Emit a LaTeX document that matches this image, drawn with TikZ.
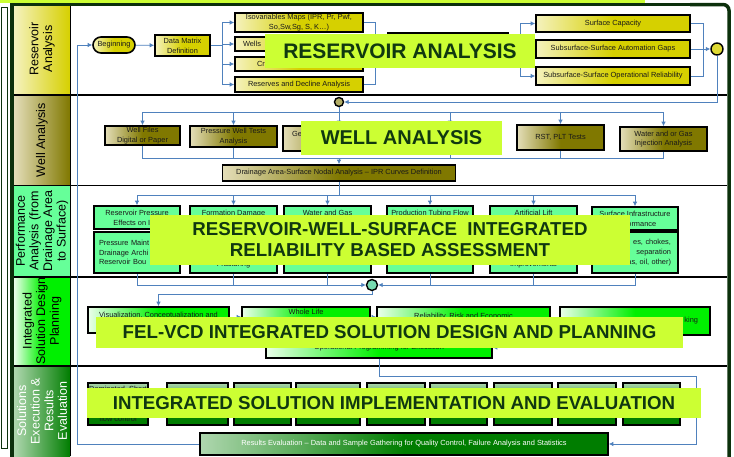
\documentclass[tikz,border=0pt]{standalone}
\usepackage{fontspec}
\setmainfont{Liberation Sans}
\usepackage{xcolor}
\usepackage{tikz}
\usetikzlibrary{arrows.meta}
\definecolor{yelb}{RGB}{214,208,0}
\definecolor{yell}{RGB}{245,242,190}
\definecolor{olvb}{RGB}{128,120,0}
\definecolor{olvl}{RGB}{228,222,185}
\definecolor{mint}{RGB}{102,255,153}
\definecolor{lgrb}{RGB}{0,240,0}
\definecolor{lgrl}{RGB}{235,255,235}
\definecolor{dgrb}{RGB}{0,125,0}
\definecolor{dgrl}{RGB}{175,215,175}
\definecolor{frameg}{RGB}{12,48,12}
\definecolor{lime}{RGB}{204,255,51}
\definecolor{limetext}{RGB}{16,56,16}
\definecolor{connb}{RGB}{79,129,189}
\def\boxfont{\fontsize{7.4}{9.8}\selectfont}
\tikzstyle{box}=[draw=black,line width=1.6pt,inner sep=1pt,align=center,font=\boxfont,text=black!90]
\tikzstyle{ybox}=[box,left color=yell,right color=yelb,middle color=yelb]
\tikzstyle{obox}=[box,left color=olvl,right color=olvb,middle color=olvb]
\tikzstyle{gbox}=[box,fill=mint]
\tikzstyle{lbox}=[box,left color=lgrl,right color=lgrb,middle color=lgrb]
\tikzstyle{dbox}=[box,top color=dgrl,bottom color=dgrb,middle color=dgrb]
\tikzstyle{joint}=[circle,draw=black,line width=1.4pt,inner sep=0pt]
\tikzstyle{conn}=[draw=connb,line width=0.8pt]
\tikzstyle{arr}=[conn,-{Latex[length=4.5pt,width=4.5pt]}]
\tikzstyle{lane}=[rotate=90,align=center,font=\fontsize{12.5}{13.6}\selectfont]
\tikzstyle{banner}=[fill=lime,text=limetext,inner sep=0pt,align=center,font=\fontsize{18.7}{21}\selectfont\bfseries]
\tikzstyle{sep}=[line width=1.5pt,black]

\begin{document}
\begin{tikzpicture}[x=1pt,y=-1pt]
  \useasboundingbox (0,0) rectangle (734,456);
  \fill[white] (0,0) rectangle (734,456);
  \fill[lime] (0,0) rectangle (645,3);
  \draw[frameg,line width=0.8pt] (1.5,7) rectangle (7.5,448);
  % swim lanes
  \shade[left color=yell,right color=yelb] (14,5) rectangle (70,95);
  \shade[left color=olvl,right color=olvb] (14,95) rectangle (70,185);
  \fill[mint] (14,185) rectangle (70,277);
  \shade[left color=lgrl,right color=lgrb,middle color=lgrb] (14,277) rectangle (70,366);
  \shade[left color=dgrl,right color=dgrb] (14,366) rectangle (70,456);
  \node[lane] (lab1) at (42,49) {Reservoir\\Analysis};
  \node[lane] (lab2) at (42,140) {Well Analysis};
  \node[lane] (lab3) at (42,231) {Performance\\Analysis (from\\Drainage Area\\to Surface)};
  \node[lane] (lab4) at (42,321) {Integrated\\Solution Design\\Planning};
  \node[lane,text=white] (lab5) at (42,411) {Solutions\\Execution \&\\Results\\Evaluation};
  \draw[sep] (14,95) -- (727,95);
  \draw[sep] (14,185.5) -- (727,185.5);
  \draw[sep] (14,277) -- (727,277);
  \draw[sep] (14,366) -- (727,366);
  \draw[sep] (70.5,5) -- (70.5,456);
  \draw[frameg,line width=3.5pt] (12,470) -- (12,4.5) -- (700,4.5);
  \draw[frameg,line width=3.5pt,rounded corners=6pt] (690,4.5) -- (729,4.5) -- (729,470);

  % reservoir analysis
  \node[ybox,rounded corners=8pt,minimum width=42,minimum height=16] (begin) at (114,45) {Beginning};
  \node[ybox,minimum width=55,minimum height=21] (dmd) at (182.5,45.5) {Data Matrix\\Definition};
  \node[ybox,minimum width=128,minimum height=19] (iso) at (299,22.5) {Isovariables Maps (IPR, Pr, Pwf,\\So,Sw,Sg, S, K…)};
  \node[ybox,minimum height=14,text width=112,inner xsep=8,align=left] (wells) at (299,44) {Wells};
  \node[ybox,minimum height=14,text width=84,inner xsep=22,align=left] (crit) at (299,64) {Cr};
  \node[ybox,minimum width=128,minimum height=15] (rsv) at (299,84.5) {Reserves and Decline Analysis};
  \node[ybox,minimum width=120,minimum height=34] (mid) at (448,50) {};
  \node[ybox,minimum width=154,minimum height=17] (cap) at (613,23.5) {Surface Capacity};
  \node[ybox,minimum width=154,minimum height=18] (gaps) at (613,49) {Subsurface-Surface Automation Gaps};
  \node[ybox,minimum width=154,minimum height=18] (orel) at (613,76) {Subsurface-Surface Operational Reliability};
  \node[joint,fill=yelb!80!white,minimum size=12] (c1) at (717,49) {};
  \coordinate (j1) at (222,45.5);
  \coordinate (j2) at (375,49);
  \coordinate (j3) at (520,49);
  \coordinate (j4) at (703,49);
  \draw[arr] (begin) -- (dmd);
  \draw[arr] (dmd.east) -- (j1) |- (iso.west);
  \draw[arr] (dmd.east) -- (j1) |- (wells.west);
  \draw[arr] (dmd.east) -- (j1) |- (crit.west);
  \draw[arr] (dmd.east) -- (j1) |- (rsv.west);
  \draw[conn] (iso.east) -| (j2);
  \draw[conn] (wells.east) -| (j2);
  \draw[conn] (crit.east) -| (j2);
  \draw[conn] (rsv.east) -| (j2);
  \draw[conn] (j2) -- (j3);
  \draw[arr] (j3) |- (cap.west);
  \draw[arr] (j3) -- (gaps.west);
  \draw[arr] (j3) |- (orel.west);
  \draw[conn] (cap.east) -| (j4);
  \draw[conn] (orel.east) -| (j4);
  \draw[arr] (gaps.east) -- (c1.west);

  % well analysis
  \node[joint,fill=olvb!60!white,minimum size=9] (c2) at (339,102) {};
  \draw[arr] (c1.south) |- (c2.east);
  \node[obox,minimum width=75,minimum height=19] (wf) at (142.5,135.5) {Well Files\\Digital or Paper};
  \node[obox,minimum width=87,minimum height=21] (pwt) at (233.5,136.5) {Pressure Well Tests\\Analysis};
  \node[obox,minimum height=25,text width=94,inner xsep=9,align=left] (ge) at (339,138.5) {Ge\\~};
  \node[obox,minimum width=90,minimum height=25] (wa4) at (450,138.5) {};
  \node[obox,minimum width=87,minimum height=25] (rst) at (560.5,137.5) {RST, PLT Tests};
  \node[obox,minimum width=87,minimum height=24] (wgi) at (663.5,139) {Water and or Gas\\Injection Analysis};
  \node[obox,minimum width=233,minimum height=16] (nodal) at (339,173) {Drainage Area-Surface Nodal Analysis – IPR Curves Definition};
  \coordinate (j5) at (339,112);
  \coordinate (j6) at (339,158);
  \draw[conn] (c2.south) -- (j5);
  \draw[arr] (j5) -| (wf.north);
  \draw[arr] (j5) -| (pwt.north);
  \draw[arr] (j5) -- (ge.north);
  \draw[arr] (j5) -| (wa4.north);
  \draw[arr] (j5) -| (rst.north);
  \draw[arr] (j5) -| (wgi.north);
  \draw[conn] (wf.south) |- (j6);
  \draw[conn] (pwt.south) |- (j6);
  \draw[conn] (wa4.south) |- (j6);
  \draw[conn] (rst.south) |- (j6);
  \draw[conn] (wgi.south) |- (j6);
  \draw[arr] (j6) -- (nodal.north);

  % performance analysis
  \node[gbox,minimum width=86,minimum height=23] (p1) at (137,217.5) {Reservoir Pressure\\Effects on I\hphantom{PR}};
  \node[gbox,minimum width=87,minimum height=23] (p2) at (233.5,217.5) {Formation Damage\\~};
  \node[gbox,minimum width=87,minimum height=23] (p3) at (327.5,217.5) {Water and Gas\\~};
  \node[gbox,minimum width=86,minimum height=23] (p4) at (430,217.5) {Production Tubing Flow\\~};
  \node[gbox,minimum width=87,minimum height=23] (p5) at (533.5,217.5) {Artificial Lift\\~};
  \node[gbox,minimum width=86,minimum height=23] (p6) at (635,218.5) {Surface Infrastructure\\\hphantom{Perf}ormance};
  \node[gbox,minimum height=41,text width=76,inner xsep=5,align=left] (q1) at (137,252.5) {Pressure Maint\\Drainage Archi\\Reservoir Bou};
  \node[gbox,minimum width=87,minimum height=41] (q2) at (233.5,252.5) {~\\~\\~\\Fracturing};
  \node[gbox,minimum width=87,minimum height=41] (q3) at (327.5,252.5) {};
  \node[gbox,minimum width=86,minimum height=41] (q4) at (430,252.5) {};
  \node[gbox,minimum width=87,minimum height=41] (q5) at (533.5,252.5) {~\\~\\~\\Improvements};
  \node[gbox,minimum height=41,text width=72,inner xsep=7,align=right] (q6) at (635,252.5) {es, chokes,\\separation\\as, oil, other)};
  \node[joint,fill=mint!60!teal!70!white,minimum size=11] (c3) at (372,285) {};
  \coordinate (j7) at (339,195);
  \draw[conn] (nodal.south) -- (j7);
  \draw[arr] (j7) -| (p1.north);
  \draw[arr] (j7) -| (p2.north);
  \draw[arr] (j7) -| (p3.north);
  \draw[arr] (j7) -| (p4.north);
  \draw[arr] (j7) -| (p5.north);
  \draw[arr] (j7) -| (p6.north);
  \draw[arr] (q1.south) |- (c3.west);
  \draw[conn] (q2.south) -- (q2.south |- c3);
  \draw[conn] (q3.south) -- (q3.south |- c3);
  \draw[conn] (q4.south) -- (q4.south |- c3);
  \draw[conn] (q5.south) -- (q5.south |- c3);
  \draw[arr] (q6.south) |- (c3.east);

  % solution design
  \node[lbox,minimum width=141,minimum height=26] (vis) at (158.5,320) {Visualization, Conceptualization and\\~};
  \node[lbox,minimum width=128,minimum height=30] (whole) at (306,322) {Whole Life\\~\\~};
  \node[lbox,minimum width=226,minimum height=21] (oper) at (379,347.5) {Operational Programming for Execution};
  \node[lbox,minimum width=173,minimum height=28] (rel) at (463.5,321) {Reliability, Risk and Economic\\~};
  \node[lbox,minimum height=28,text width=126,inner xsep=12,align=right] (bench) at (635,321) {king};
  \coordinate (v1) at ([yshift=3pt]vis.east);
  \coordinate (v2) at ([yshift=5pt]whole.east);
  \draw[arr] (c3.south) -- ++(0,3) -| (vis.north);
  \draw[arr] (v1) -- (v1 -| whole.west);
  \draw[arr] (v2) -- (v2 -| rel.west);
  \draw[arr] (bench.south) |- (oper.east);

  % execution and evaluation
  \node[dbox,minimum width=60,minimum height=42] (e1) at (118,404) {Dominated, Short\\~\\~\\flow control};
  \node[dbox,minimum width=61,minimum height=42] (e2) at (197.5,404) {};
  \node[dbox,minimum width=57,minimum height=42] (e3) at (262.5,404) {};
  \node[dbox,minimum width=64,minimum height=42] (e4) at (328,404) {};
  \node[dbox,minimum width=58,minimum height=42] (e5) at (396,404) {};
  \node[dbox,minimum width=57,minimum height=42] (e6) at (458.5,404) {};
  \node[dbox,minimum width=58,minimum height=42] (e7) at (523,404) {};
  \node[dbox,minimum width=58,minimum height=42] (e8) at (587,404) {};
  \node[dbox,minimum width=57,minimum height=42] (e9) at (651.5,404) {};
  \node[box,left color=dgrl,right color=dgrb,middle color=dgrb,minimum width=408,minimum height=22,text=white] (results) at (404,444) {Results Evaluation – Data and Sample Gathering for Quality Control, Failure Analysis and Statistics};
  \coordinate (j8) at (696,376);
  \coordinate (j9) at (77,45);
  \draw[arr] (oper.south) |- (j8) |- (results.east);
  \draw[arr] (results.west) -| (j9) -- (begin.west);

  % banners
  \node[banner,minimum width=270,minimum height=34,font=\fontsize{21}{22}\selectfont\bfseries] (bn1) at (400,51) {RESERVOIR ANALYSIS};
  \node[banner,minimum width=201,minimum height=34,font=\fontsize{20}{22}\selectfont\bfseries] (bn2) at (401.5,138) {WELL ANALYSIS};
  \node[banner,minimum width=480,minimum height=50] (bn3) at (390,240) {RESERVOIR-WELL-SURFACE\ \ INTEGRATED\\RELIABILITY BASED ASSESSMENT};
  \node[banner,minimum width=587,minimum height=31] (bn4) at (389.5,332.5) {FEL-VCD INTEGRATED SOLUTION DESIGN AND PLANNING};
  \node[banner,minimum width=614,minimum height=30] (bn5) at (394,403) {INTEGRATED SOLUTION IMPLEMENTATION AND EVALUATION};
\end{tikzpicture}
\end{document}
